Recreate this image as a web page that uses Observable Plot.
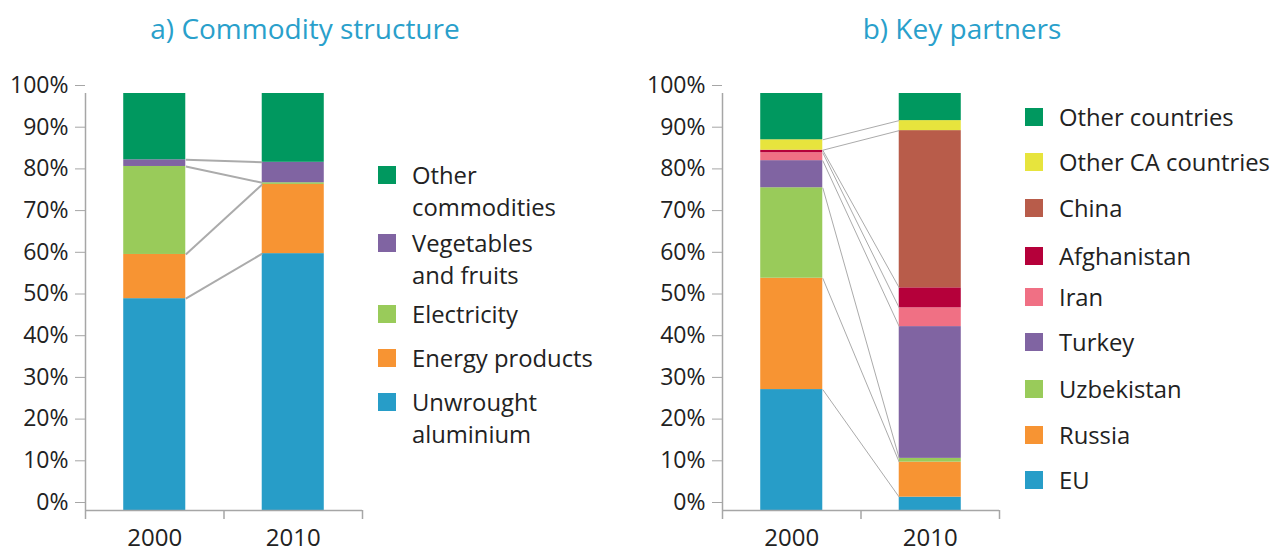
<!DOCTYPE html>
<html>
<head>
<meta charset="utf-8">
<script src="https://cdn.jsdelivr.net/npm/d3@7"></script>
<script src="https://cdn.jsdelivr.net/npm/@observablehq/plot@0.6"></script>
<style>
  body { margin: 0; background: #fff; font-family: "Open Sans", sans-serif; }
  #root { position: relative; width: 1272px; height: 551px; overflow: hidden; }
  .title { position: absolute; top: 8px; font-size: 28px; color: #29a0cb; transform: translateX(-50%); white-space: nowrap; line-height: 40px; }
  .panel { position: absolute; top: 0; }
  .sw { position: absolute; width: 18px; height: 18px; }
  .lab { position: absolute; font-size: 23.8px; line-height: 32px; color: #222; white-space: pre-line; }
</style>
</head>
<body>
<div id="root"></div>
<script>
// ---------- data ----------
const years = ["2000", "2010"];
const yTicks = [0, 10, 20, 30, 40, 50, 60, 70, 80, 90, 100];

// a) Commodity structure (bottom -> top), % of total
const commodities = ["Unwrought\naluminium", "Energy products", "Electricity", "Vegetables\nand fruits", "Other\ncommodities"];
const commodity2000 = [50.8, 10.6, 21.1, 1.6, 15.9];
const commodity2010 = [61.6, 16.6, 0.4, 4.9, 16.5];
const commodityColors = ["#279dc8", "#f79433", "#99cb5a", "#8064a2", "#00985f"];

// b) Key partners (bottom -> top), % of total
const partners = ["EU", "Russia", "Uzbekistan", "Turkey", "Iran", "Afghanistan", "China", "Other CA countries", "Other countries"];
const partner2000 = [29.0, 26.7, 21.7, 6.5, 1.9, 0.6, 0.0, 2.5, 11.1];
const partner2010 = [3.2, 8.4, 0.9, 31.6, 4.5, 4.8, 37.7, 2.4, 6.5];
const partnerColors = ["#279dc8", "#f79433", "#99cb5a", "#8064a2", "#f07084", "#b5003a", "#b85c4a", "#e7e43d", "#00985f"];

// ---------- helpers ----------
const axisGray = "#a6a6a6";
const textColor = "#222";

function stack(cats, seriesByYear) {
  const rows = [];
  seriesByYear.forEach((vals, yi) => {
    let acc = 0;
    vals.forEach((v, ci) => {
      rows.push({year: years[yi], yi, ci, cat: cats[ci], y1: acc, y2: acc + v});
      acc += v;
    });
  });
  return rows;
}

function connectors(cats, seriesByYear) {
  const tops = seriesByYear.map(vals => d3.cumsum(vals));
  const out = [];
  for (let ci = 0; ci < cats.length - 1; ci++) {
    out.push({ci, a: tops[0][ci], b: tops[1][ci]});
  }
  return out;
}

function panel({cats, s2000, s2010, colors, lineWidth, halfBar, width, marginRight}) {
  const series = [s2000, s2010];
  const rows = stack(cats, series);
  const links = connectors(cats, series);
  return Plot.plot({
    width, height: 551,
    marginLeft: 85, marginRight, marginTop: 93, marginBottom: 41,
    x: {domain: [0, years.length], axis: null},
    y: {domain: [0, 100], axis: null},
    style: {fontFamily: "Open Sans", background: "transparent", overflow: "visible"},
    marks: [
      Plot.rectY(rows, {
        x1: d => d.yi + 0.5 - halfBar, x2: d => d.yi + 0.5 + halfBar,
        y1: "y1", y2: "y2", fill: d => colors[d.ci]
      }),
      Plot.link(links, {
        x1: 0.5 + halfBar, x2: 1.5 - halfBar, y1: "a", y2: "b",
        stroke: "#ababab", strokeWidth: lineWidth
      }),
      Plot.ruleX([0], {stroke: axisGray, strokeWidth: 1.5}),
      Plot.ruleY([0], {stroke: axisGray, strokeWidth: 1.5}),
      Plot.axisY(yTicks, {
        anchor: "left", tickSize: 10, tickPadding: 7, dy: -8,
        tickFormat: d => d + "%", fontSize: 23, stroke: axisGray, fill: textColor
      }),
      Plot.axisX(d3.range(years.length + 1), {
        anchor: "bottom", tickSize: 9, tickFormat: () => "", stroke: axisGray, strokeWidth: 1.5
      }),
      Plot.text(years, {
        x: (d, i) => i + 0.5, y: 0, dy: 28, text: d => d,
        fontSize: 24, fill: textColor
      })
    ]
  });
}

// ---------- layout ----------
const root = document.getElementById("root");

function addTitle(text, cx) {
  const t = document.createElement("div");
  t.className = "title";
  t.textContent = text;
  t.style.left = cx + "px";
  root.appendChild(t);
}

function addLegend(cats, colors, left, tops) {
  cats.forEach((c, i) => {
    const sw = document.createElement("div");
    sw.className = "sw";
    sw.style.left = left + "px";
    sw.style.top = tops[i] + "px";
    sw.style.background = colors[i];
    root.appendChild(sw);
    const lab = document.createElement("div");
    lab.className = "lab";
    lab.style.left = (left + 34) + "px";
    lab.style.top = (tops[i] + 9 - 16) + "px";
    lab.textContent = c;
    root.appendChild(lab);
  });
}

const left = panel({cats: commodities, s2000: commodity2000, s2010: commodity2010,
  colors: commodityColors, lineWidth: 2, halfBar: 0.224, width: 370, marginRight: 8});
left.classList.add("panel");
left.style.left = "0px";
root.appendChild(left);

const right = panel({cats: partners, s2000: partner2000, s2010: partner2010,
  colors: partnerColors, lineWidth: 1, halfBar: 0.224, width: 370, marginRight: 8});
right.classList.add("panel");
right.style.left = "637px";
root.appendChild(right);

addTitle("a) Commodity structure", 305);
addTitle("b) Key partners", 962);

// legends listed top -> bottom
const cTopOrder = d3.range(commodities.length).reverse();
addLegend(cTopOrder.map(i => commodities[i]), cTopOrder.map(i => commodityColors[i]), 378, [166, 234, 305, 349, 393]);
const pTopOrder = d3.range(partners.length).reverse();
addLegend(pTopOrder.map(i => partners[i]), pTopOrder.map(i => partnerColors[i]), 1025, [108, 153, 199, 247, 288, 333, 380, 426, 471]);
</script>
</body>
</html>
